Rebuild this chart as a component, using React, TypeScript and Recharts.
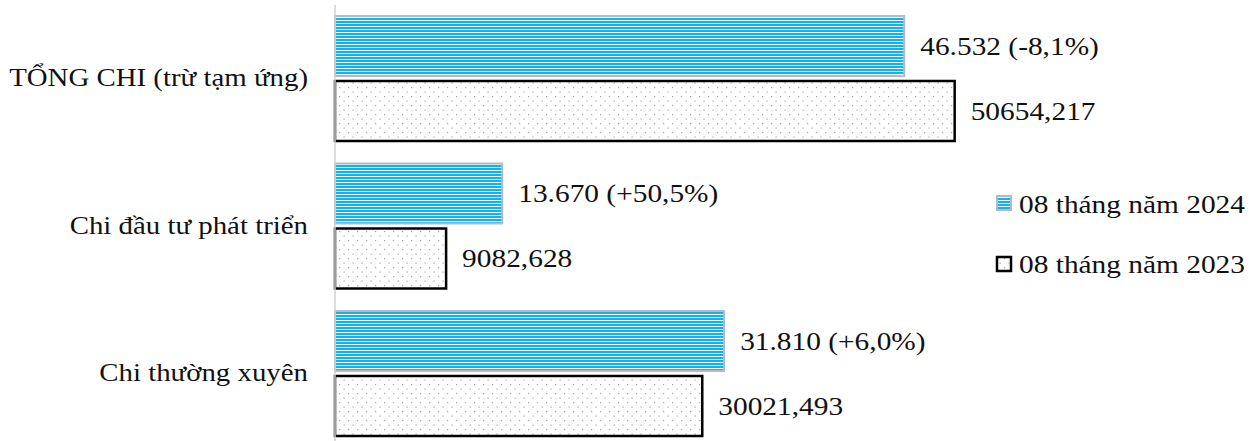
import React from 'react';
import { BarChart, Bar, XAxis, YAxis, LabelList, Legend } from 'recharts';

const categories = ['TỔNG CHI (trừ tạm ứng)', 'Chi đầu tư phát triển', 'Chi thường xuyên'];
const values2024 = [46532, 13670, 31810];
const values2023 = [50654.217, 9082.628, 30021.493];
const labels2024 = ['46.532 (-8,1%)', '13.670 (+50,5%)', '31.810 (+6,0%)'];
const labels2023 = ['50654,217', '9082,628', '30021,493'];
const seriesNames = ['08 tháng năm 2024', '08 tháng năm 2023'];

const data = categories.map((c, i) => ({
  name: c,
  v2024: values2024[i],
  v2023: values2023[i],
  l2024: labels2024[i],
  l2023: labels2023[i],
}));

const FONT = '"Liberation Serif", "Times New Roman", serif';
const FS = 26;
const SX = 1.13;
const SX_TICK = 1.11;

const CategoryTick = (props: any) => {
  const { x, y, payload } = props;
  return (
    <text
      transform={`translate(${x},${y - 1}) scale(${SX_TICK},1)`}
      textAnchor="end"
      dominantBaseline="central"
      fontFamily={FONT}
      fontSize={FS}
      fill="#111"
    >
      {payload.value}
    </text>
  );
};

const renderLabel = (props: any) => {
  const x = Number(props.x);
  const y = Number(props.y);
  const w = Number(props.width);
  const h = Number(props.height);
  return (
    <text
      transform={`translate(${x + w + 16},${y + h / 2}) scale(${SX},1)`}
      textAnchor="start"
      dominantBaseline="central"
      fontFamily={FONT}
      fontSize={FS}
      fill="#111"
    >
      {props.value}
    </text>
  );
};

const Patterns = () => (
  <defs>
    <pattern id="stripes" width="6" height="3" patternUnits="userSpaceOnUse">
      <rect x="0" y="0" width="6" height="3" fill="#ffffff" />
      <rect x="0" y="0" width="6" height="2" fill="#12b2ef" />
    </pattern>
    <pattern id="dots" width="9" height="9" patternUnits="userSpaceOnUse">
      <rect x="0" y="0" width="9" height="9" fill="#ffffff" />
      <rect x="1.5" y="1.5" width="1.2" height="1.2" fill="#a8a8a8" />
      <rect x="6" y="6" width="1.2" height="1.2" fill="#a8a8a8" />
    </pattern>
  </defs>
);

const LegendContent = () => (
  <svg width={266} height={110} style={{ display: 'block' }}>
    <Patterns />
    <rect x={8} y={16} width={14} height={14} fill="url(#stripes)" stroke="#b0bccd" strokeWidth={2} />
    <text
      transform={`translate(30,24) scale(${SX},1)`}
      dominantBaseline="central"
      fontFamily={FONT}
      fontSize={FS}
      fill="#111"
    >
      {seriesNames[0]}
    </text>
    <rect x={8} y={77} width={14} height={14} fill="url(#dots)" stroke="#000" strokeWidth={2.5} />
    <text
      transform={`translate(30,84) scale(${SX},1)`}
      dominantBaseline="central"
      fontFamily={FONT}
      fontSize={FS}
      fill="#111"
    >
      {seriesNames[1]}
    </text>
  </svg>
);

export default function App() {
  return (
    <div style={{ position: 'absolute', left: 0, top: 0, width: 1256, height: 441, overflow: 'hidden', background: '#fff' }}>
      <BarChart
        width={1256}
        height={460}
        data={data}
        layout="vertical"
        margin={{ top: 5, right: 187, bottom: 12.5, left: 0 }}
        barGap={5}
      >
        <Patterns />
        <XAxis type="number" hide domain={[0, 60000]} />
        <YAxis
          type="category"
          dataKey="name"
          width={335}
          tickLine={false}
          tickSize={0}
          tickMargin={27}
          axisLine={{ stroke: '#d0d0d0', strokeWidth: 1.5 }}
          tick={<CategoryTick />}
          interval={0}
        />
        <Legend
          layout="horizontal"
          align="center"
          verticalAlign="middle"
          content={<LegendContent />}
          wrapperStyle={{ position: 'absolute', left: 989, top: 180, width: 266, height: 110 }}
        />
        <Bar
          dataKey="v2024"
          name={seriesNames[0]}
          barSize={60}
          fill="url(#stripes)"
          stroke="#b0bccd"
          strokeWidth={2}
          isAnimationActive={false}
        >
          <LabelList dataKey="l2024" content={renderLabel} />
        </Bar>
        <Bar
          dataKey="v2023"
          name={seriesNames[1]}
          barSize={60}
          fill="url(#dots)"
          stroke="#000"
          strokeWidth={2.5}
          isAnimationActive={false}
        >
          <LabelList dataKey="l2023" content={renderLabel} />
        </Bar>
      </BarChart>
    </div>
  );
}
